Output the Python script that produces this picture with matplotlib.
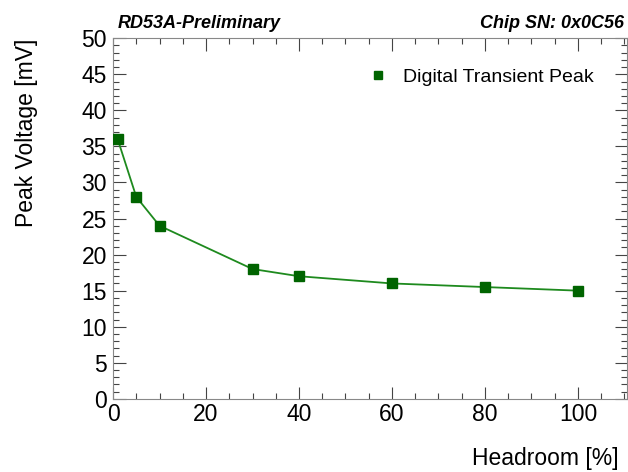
import matplotlib
matplotlib.use("Agg")
import matplotlib.pyplot as plt
from matplotlib.ticker import MultipleLocator

plt.rcParams['font.family'] = ['Liberation Sans', 'DejaVu Sans']

headroom = [1, 5, 10, 30, 40, 60, 80, 100]
peak_mv = [36, 28, 24, 18, 17, 16, 15.5, 15]
series_label = "Digital Transient Peak"
x_ticks = [0, 20, 40, 60, 80, 100]
y_ticks = [0, 5, 10, 15, 20, 25, 30, 35, 40, 45, 50]

fig = plt.figure(figsize=(6.28, 4.72), dpi=100)
ax = fig.add_axes([0.18, 0.155, 0.818, 0.764])

ax.plot(headroom, peak_mv, color='#1e8a1e', lw=1.3, marker='s', ms=6.6,
        mfc='#006400', mec='#006400', label=series_label, zorder=3)

ax.set_xlim(0, 110.5)
ax.set_ylim(0, 50)
ax.set_xticks(x_ticks)
ax.set_yticks(y_ticks)
ax.xaxis.set_minor_locator(MultipleLocator(5))
ax.yaxis.set_minor_locator(MultipleLocator(1))

ax.tick_params(which='both', direction='in', top=True, right=True,
               color='#444444', width=0.8, labelsize=16.5)
ax.tick_params(axis='y', pad=4.5)
ax.tick_params(axis='x', pad=3)
ax.tick_params(which='major', length=9)
ax.tick_params(which='minor', length=4.5)
for s in ax.spines.values():
    s.set_color('#888888')
    s.set_linewidth(0.8)

ax.set_ylabel("Peak Voltage [mV]", fontsize=16.5, loc='top')
ax.yaxis.set_label_coords(-0.146, 1.0)
fig.text(0.985, 0.005, "Headroom [%]", ha='right', va='bottom', fontsize=16.5)

fig.text(0.187, 0.94, "RD53A-Preliminary", fontsize=13,
         fontweight='bold', fontstyle='italic', ha='left', va='baseline')
fig.text(0.9936, 0.94, "Chip SN: 0x0C56", fontsize=13,
         fontweight='bold', fontstyle='italic', ha='right', va='baseline')

leg = ax.legend(loc='upper right', bbox_to_anchor=(0.97, 0.965), frameon=False,
                fontsize=14, handlelength=1.0, handletextpad=0.8,
                markerscale=0.9)
for h in leg.legend_handles:
    h.set_linestyle('None')

fig.savefig("out.png", dpi=100)
